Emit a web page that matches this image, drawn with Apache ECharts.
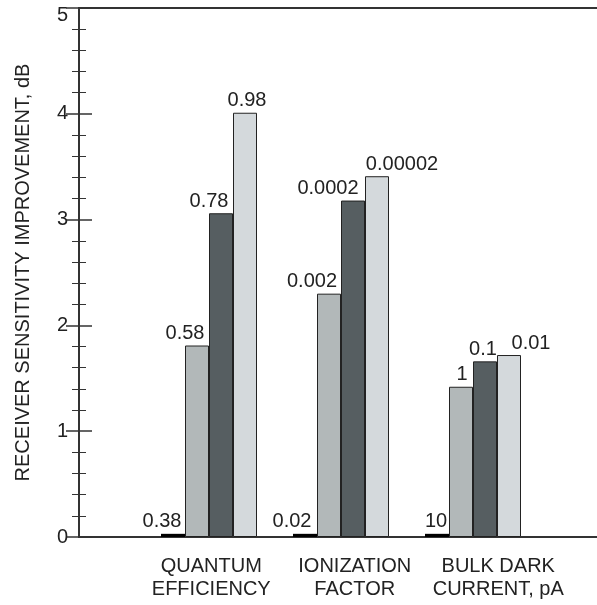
<!DOCTYPE html>
<html>
<head>
<meta charset="utf-8">
<script src="https://cdn.jsdelivr.net/npm/echarts@6/dist/echarts.min.js"></script>
<style>
  html, body { margin: 0; padding: 0; background: #fff; }
  #chart { width: 597px; height: 605px; }
</style>
</head>
<body>
<div id="chart"></div>
<script>
// Parameter groups along the x axis
const categories = ['QUANTUM\nEFFICIENCY', 'IONIZATION\nFACTOR', 'BULK DARK\nCURRENT, pA'];

// Receiver sensitivity improvement (dB) for each of the four parameter settings
const baseline = [0.03, 0.03, 0.03];
const stepOne = [1.81, 2.30, 1.42];
const stepTwo = [3.06, 3.18, 1.66];
const stepThree = [4.01, 3.41, 1.72];

// Parameter value printed above each bar
const baselineLabels = ['0.38', '0.02', '10'];
const stepOneLabels = ['0.58', '0.002', '1'];
const stepTwoLabels = ['0.78', '0.0002', '0.1'];
const stepThreeLabels = ['0.98', '0.00002', '0.01'];

// Y axis scale
const yMin = 0, yMax = 5, yStep = 1;

// Horizontal nudges (px) that keep neighbouring value labels apart
const labelNudge = [
  [-11, -13, -1],
  [-12, -17, 1],
  [-12, -25, -2],
  [2, 25, 22]
];

const FONT = '"Liberation Sans", Arial, Helvetica, sans-serif';
const TEXT = '#222';
const LINE = '#333';
const FS = 20;

function barSeries(values, labels, nudge, color, border) {
  return {
    type: 'bar',
    xAxisIndex: 2,
    yAxisIndex: 2,
    data: values.map((v, i) => ({ value: v, label: { offset: [nudge[i], 0] } })),
    barWidth: 24,
    barGap: '0%',
    itemStyle: { color: color, borderColor: border || color, borderWidth: border ? 1 : 0 },
    label: {
      show: true,
      position: 'top',
      distance: 2,
      fontFamily: FONT,
      fontSize: FS,
      color: TEXT,
      formatter: p => labels[p.dataIndex]
    },
    silent: true
  };
}

const chart = echarts.init(document.getElementById('chart'), null, { renderer: 'canvas' });

const frameY = (pos, showLabels) => ({
  type: 'value', gridIndex: 0, position: pos, min: yMin, max: yMax, interval: yStep,
  axisLine: { show: true, lineStyle: { color: LINE, width: 2 } },
  axisTick: { show: true, inside: true, length: 13, lineStyle: { color: LINE, width: 1.5 } },
  minorTick: { show: true, splitNumber: 5, length: 7, lineStyle: { color: LINE, width: 1 } },
  splitLine: { show: false },
  axisLabel: {
    show: showLabels, margin: 11, fontFamily: FONT, fontSize: FS, color: TEXT,
    // the top label sits just below the frame corner
    formatter: v => (v === yMax ? '{top|' + v + '}' : String(v)),
    rich: { top: { fontFamily: FONT, fontSize: FS, color: TEXT, padding: [14, 0, 0, 0] } }
  },
  name: showLabels ? 'RECEIVER SENSITIVITY IMPROVEMENT, dB' : '',
  nameLocation: 'middle',
  nameGap: 46,
  nameTextStyle: { fontFamily: FONT, fontSize: FS, color: TEXT }
});

chart.setOption({
  animation: false,
  backgroundColor: '#fff',
  grid: [
    { left: 79, right: -5, top: 8, height: 529 },     // frame with both y axes
    { left: 143, width: 396, top: 8, height: 529 },    // bars
    { left: 139.5, width: 430.5, top: 8, height: 529 } // category names
  ],
  xAxis: [
    { type: 'value', gridIndex: 0, position: 'bottom', min: 0, max: 1,
      axisLine: { show: true, onZero: false, lineStyle: { color: LINE, width: 2 } },
      axisTick: { show: false }, axisLabel: { show: false }, splitLine: { show: false } },
    { type: 'value', gridIndex: 0, position: 'top', min: 0, max: 1,
      axisLine: { show: true, onZero: false, lineStyle: { color: LINE, width: 2 } },
      axisTick: { show: false }, axisLabel: { show: false }, splitLine: { show: false } },
    { type: 'category', gridIndex: 1, data: categories,
      axisLine: { show: false }, axisTick: { show: false }, axisLabel: { show: false } },
    { type: 'category', gridIndex: 2, data: categories,
      axisLine: { show: false }, axisTick: { show: false },
      axisLabel: { show: true, margin: 18, fontFamily: FONT, fontSize: FS, lineHeight: 23, color: TEXT, interval: 0 } }
  ],
  yAxis: [
    frameY('left', true),
    frameY('right', false),
    { type: 'value', gridIndex: 1, min: yMin, max: yMax, show: false },
    { type: 'value', gridIndex: 2, min: yMin, max: yMax, show: false }
  ],
  series: [
    barSeries(baseline, baselineLabels, labelNudge[0], '#000', null),
    barSeries(stepOne, stepOneLabels, labelNudge[1], '#b2b8b9', '#222'),
    barSeries(stepTwo, stepTwoLabels, labelNudge[2], '#565e61', '#222'),
    barSeries(stepThree, stepThreeLabels, labelNudge[3], '#d4d9dc', '#222')
  ]
});
</script>
</body>
</html>
